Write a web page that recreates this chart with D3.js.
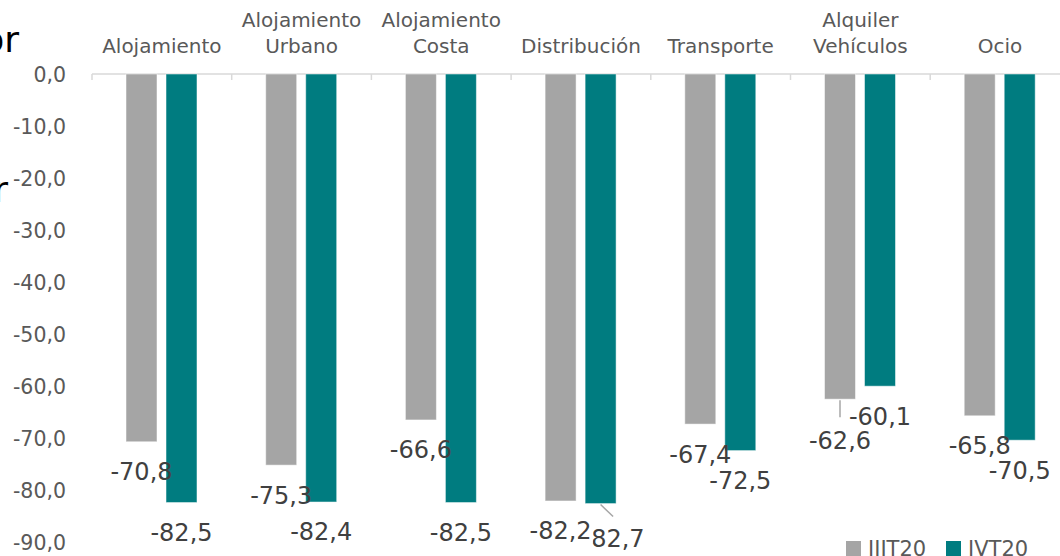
<!DOCTYPE html>
<html>
<head>
<meta charset="utf-8">
<script src="https://cdn.jsdelivr.net/npm/d3@7"></script>
<style>
  body { margin: 0; background: #fff; }
  svg { display: block; font-family: "DejaVu Sans", sans-serif; }
</style>
</head>
<body>
<div id="chart"></div>
<script>
// data
const categories = ["Alojamiento", "Alojamiento Urbano", "Alojamiento Costa", "Distribución", "Transporte", "Alquiler Vehículos", "Ocio"];
const categoryLines = [["Alojamiento"], ["Alojamiento", "Urbano"], ["Alojamiento", "Costa"], ["Distribución"], ["Transporte"], ["Alquiler", "Vehículos"], ["Ocio"]];
const seriesNames = ["IIIT20", "IVT20"];
const iiit20 = [-70.8, -75.3, -66.6, -82.2, -67.4, -62.6, -65.8];
const ivt20 = [-82.5, -82.4, -82.5, -82.7, -72.5, -60.1, -70.5];
const yTicks = [0, -10, -20, -30, -40, -50, -60, -70, -80, -90];

const colors = { "IIIT20": "#a5a5a5", "IVT20": "#007c80" };

// labels Excel pushed around (pixel nudges, plus leader line)
const labelNudge = {
  "IIIT20|Alquiler Vehículos": { dx: 0, dy: 11, leader: true },
  "IVT20|Distribución": { dx: 13, dy: 5, leader: true }
};

const width = 1060,
    height = 556,
    marginTop = 74,
    marginLeft = 92,
    step = 139.7;

const svg = d3.select("#chart").append("svg")
    .attr("width", width)
    .attr("height", height);

const x = d3.scaleBand()
    .domain(categories)
    .range([marginLeft, marginLeft + step * categories.length])
    .padding(0);

const x1 = d3.scaleBand()
    .domain(seriesNames)
    .range([34, 105])
    .paddingInner(0.225)
    .paddingOuter(0);

const y = d3.scaleLinear()
    .domain([0, -90])
    .range([marginTop, 541.5]);

// spanish style: comma decimal, plain hyphen for minus
const locale = d3.formatLocale({ decimal: ",", thousands: ".", grouping: [3], currency: ["", "€"], minus: "-" });
const fmt = locale.format(".1f");

// cut-off axis title pieces at far left
svg.append("text")
    .attr("x", 19).attr("y", 52)
    .attr("text-anchor", "end")
    .style("font-size", "36px")
    .style("fill", "#000")
    .text("or");
svg.append("text")
    .attr("x", 8).attr("y", 202)
    .attr("text-anchor", "end")
    .style("font-size", "36px")
    .style("fill", "#000")
    .text("r");

// y tick labels
svg.append("g")
  .selectAll("text")
  .data(yTicks)
  .enter().append("text")
    .attr("x", 66)
    .attr("y", function(d) { return y(d) + 1; })
    .attr("dy", "0.35em")
    .attr("text-anchor", "end")
    .style("font-size", "20.5px")
    .style("fill", "#595959")
    .text(fmt);

// category axis at top (value 0)
svg.append("line")
    .attr("x1", marginLeft).attr("x2", width)
    .attr("y1", y(0)).attr("y2", y(0))
    .style("stroke", "#d9d9d9")
    .style("stroke-width", 1.5);

svg.append("g")
  .selectAll("line")
  .data(categories.concat(["__end"]))
  .enter().append("line")
    .attr("x1", function(d, i) { return marginLeft + i * x.step(); })
    .attr("x2", function(d, i) { return marginLeft + i * x.step(); })
    .attr("y1", y(0))
    .attr("y2", y(0) + 6)
    .style("stroke", "#d9d9d9")
    .style("stroke-width", 1.5);

const catLabels = svg.append("g")
  .selectAll("text")
  .data(categories)
  .enter().append("text")
    .attr("x", function(d) { return x(d) + x.bandwidth() / 2; })
    .attr("text-anchor", "middle")
    .style("font-size", "20px")
    .style("fill", "#595959");

catLabels.each(function(d, i) {
  const lines = categoryLines[i];
  const t = d3.select(this);
  lines.forEach(function(line, j) {
    t.append("tspan")
      .attr("x", x(d) + x.bandwidth() / 2)
      .attr("y", 53 - (lines.length - 1 - j) * 26.5)
      .text(line);
  });
});

// bars
const rows = [];
categories.forEach(function(c, i) {
  rows.push({ cat: c, series: "IIIT20", value: iiit20[i] });
  rows.push({ cat: c, series: "IVT20", value: ivt20[i] });
});

svg.append("g")
  .selectAll("rect")
  .data(rows)
  .enter().append("rect")
    .attr("x", function(d) { return x(d.cat) + x1(d.series); })
    .attr("y", y(0))
    .attr("width", x1.bandwidth())
    .attr("height", function(d) { return y(d.value) - y(0); })
    .style("fill", function(d) { return colors[d.series]; })
    .style("stroke", "#ffffff")
    .style("stroke-opacity", 0.5)
    .style("stroke-width", 1);

// data labels: teal first, grey on top
const labelRows = rows.filter(function(d) { return d.series === "IVT20"; })
    .concat(rows.filter(function(d) { return d.series === "IIIT20"; }));

const labels = svg.append("g");

labelRows.forEach(function(d) {
  const nudge = labelNudge[d.series + "|" + d.cat] || { dx: 0, dy: 0 };
  const cx = x(d.cat) + x1(d.series) + x1.bandwidth() / 2;
  const barEnd = y(d.value);
  const ly = barEnd + 30 + nudge.dy;

  if (nudge.leader) {
    const x2 = nudge.dx ? cx + 12.5 : cx;
    const y2 = nudge.dx ? barEnd + 13 : barEnd + 18;
    labels.append("line")
      .attr("x1", cx).attr("y1", barEnd + 1)
      .attr("x2", x2).attr("y2", y2)
      .style("stroke", "#a6a6a6")
      .style("stroke-width", 1.5);
  }

  const t = labels.append("text")
    .attr("x", cx + nudge.dx)
    .attr("y", ly)
    .attr("dy", "0.35em")
    .attr("text-anchor", "middle")
    .style("font-size", "24px")
    .style("fill", "#404040")
    .text(fmt(d.value));

  // the Distribución grey label sits over the neighbour's minus sign
  if (d.series === "IIIT20" && d.cat === "Distribución") {
    const bb = t.node().getBBox();
    labels.insert("rect", function() { return t.node(); })
      .attr("x", bb.x).attr("y", bb.y + 4)
      .attr("width", bb.width + 1).attr("height", bb.height - 6)
      .style("fill", "#fff");
  }
});

// legend
const legend = svg.append("g")
  .selectAll("g")
  .data(seriesNames)
  .enter().append("g")
    .attr("transform", function(d, i) { return "translate(" + (846 + i * 100) + ",541)"; });

legend.append("rect")
    .attr("width", 15)
    .attr("height", 15)
    .style("fill", function(d) { return colors[d]; });

legend.append("text")
    .attr("x", 22)
    .attr("y", 15)
    .style("font-size", "21px")
    .style("fill", "#595959")
    .text(function(d) { return d; });
</script>
</body>
</html>
